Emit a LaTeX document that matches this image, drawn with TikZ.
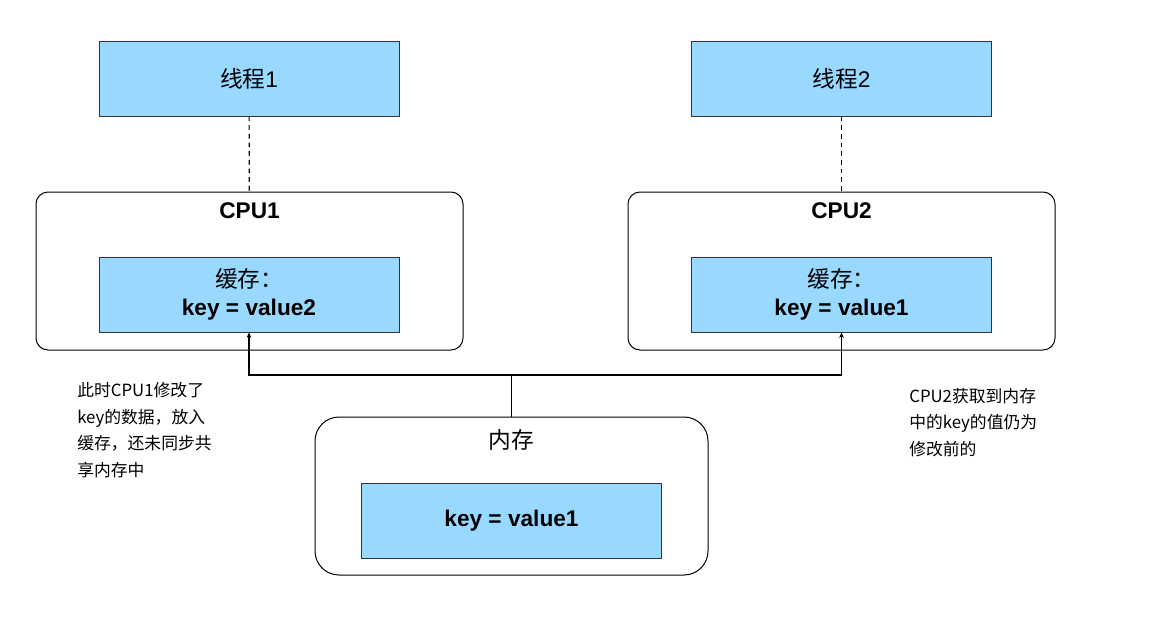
\documentclass[tikz,border=0pt]{standalone}
\usepackage{fontspec}
\setmainfont{Liberation Sans}
\newfontfamily\cjk{Noto Sans CJK SC}
\usetikzlibrary{arrows.meta}
\definecolor{cacheblue}{RGB}{153,217,255}

\begin{document}
\begin{tikzpicture}[x = 0.75pt, y = -0.75pt,
	bluebox/.style = {draw = black!80, fill = cacheblue, line width = 0.75pt, inner sep = 0pt, minimum width = 225pt, minimum height = 56.25pt, align = center, font = \fontsize{17}{21}\selectfont},
	outerbox/.style = {draw, line width = 0.75pt, inner sep = 0pt, minimum height = 118.5pt},
	boxtitle/.style = {font = \fontsize{17}{20}\selectfont},
	note/.style = {anchor = west, align = left, inner sep = 0pt, font = \fontsize{12.6}{20}\selectfont\cjk},
	link/.style = {line width = 0.9pt, -{Stealth[length = 4pt, width = 3.5pt]}}]
	\useasboundingbox (0, 0) rectangle (1151, 640);

	% threads
	\node[bluebox] (thread1) at (249, 78.5) {{\cjk 线程}1};
	\node[bluebox] (thread2) at (841.5, 78.5) {{\cjk 线程}2};

	% cpus
	\node[outerbox, rounded corners = 9pt, minimum width = 320.25pt] (cpu1) at (249.5, 271) {};
	\node[outerbox, rounded corners = 9pt, minimum width = 320.25pt] (cpu2) at (841.5, 271) {};
	\node[boxtitle] (cpu1title) at (249.5, 211) {\textbf{CPU1}};
	\node[boxtitle] (cpu2title) at (841.5, 211) {\textbf{CPU2}};
	\node[bluebox] (cache1) at (249, 294.5) {{\cjk 缓存：}\\ \textbf{key = value2}};
	\node[bluebox] (cache2) at (841.5, 294.5) {{\cjk 缓存：}\\ \textbf{key = value1}};

	% memory
	\node[outerbox, rounded corners = 18pt, minimum width = 294.75pt] (mem) at (511.5, 496) {};
	\node[boxtitle] (memtitle) at (511.5, 440) {\cjk 内存};
	\node[bluebox] (memdata) at (511.5, 520.5) {\textbf{key = value1}};

	% links
	\draw[line width = 0.9pt, dash pattern = on 3.5pt off 3pt] (thread1) -- (cpu1);
	\draw[line width = 0.9pt, dash pattern = on 3.5pt off 3pt] (thread2) -- (cpu2);
	\coordinate (bus) at (511.5, 375);
	\draw[link] (mem.north) -- (bus) -| (cache1.south);
	\draw[link] (bus) -| (cache2.south);

	% notes
	\node[note] (note1) at (77, 430) {此时CPU1修改了\\key的数据，放入\\缓存，还未同步共\\享内存中};
	\node[note] (note2) at (909, 422.5) {CPU2获取到内存\\中的key的值仍为\\修改前的};
\end{tikzpicture}
\end{document}
